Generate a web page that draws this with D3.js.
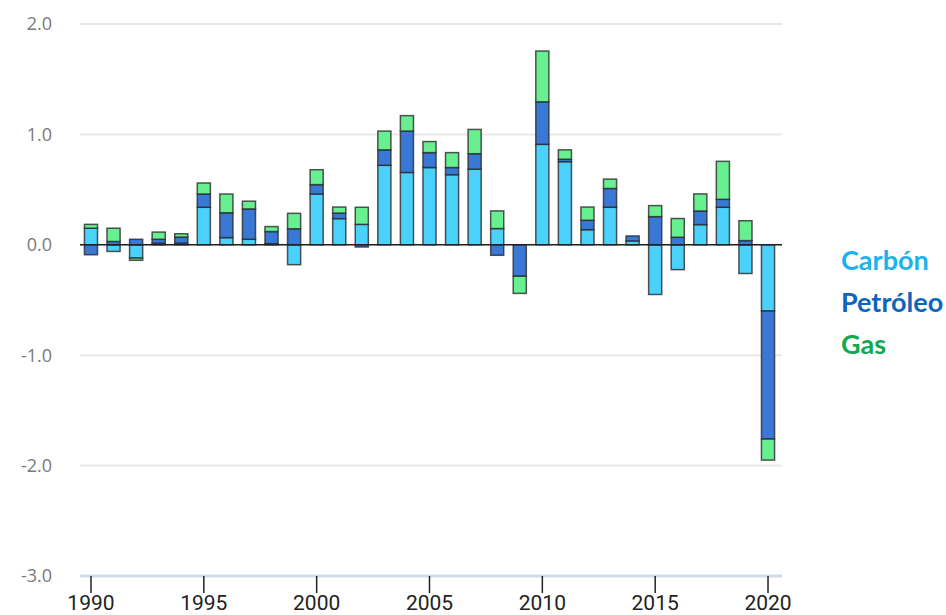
<!DOCTYPE html>
<html>
<head>
<meta charset="utf-8">
<script src="https://cdn.jsdelivr.net/npm/d3@7"></script>
<style>
  body { margin: 0; background: #fff; }
  svg { display: block; }
</style>
</head>
<body>
<div id="chart"></div>
<script>
// years 1990..2020
const years = d3.range(1990, 2021);
const carbon = [0.15, -0.06, -0.12, 0.015, 0.015, 0.34, 0.065, 0.05, 0.01, -0.18,
                0.46, 0.237, 0.185, 0.72, 0.655, 0.70, 0.635, 0.685, 0.147, 0.0,
                0.91, 0.753, 0.137, 0.34, 0.035, -0.45, -0.225, 0.183, 0.34, -0.26, -0.6];
const oil = [-0.09, 0.03, 0.05, 0.035, 0.055, 0.12, 0.225, 0.275, 0.11, 0.145,
             0.085, 0.05, -0.02, 0.14, 0.375, 0.135, 0.065, 0.14, -0.095, -0.285,
             0.385, 0.022, 0.085, 0.17, 0.045, 0.255, 0.068, 0.123, 0.072, 0.038, -1.16];
const gas = [0.035, 0.12, -0.02, 0.065, 0.03, 0.10, 0.17, 0.07, 0.045, 0.14,
             0.135, 0.055, 0.155, 0.17, 0.14, 0.10, 0.135, 0.22, 0.16, -0.155,
             0.46, 0.085, 0.12, 0.085, 0.0, 0.10, 0.17, 0.155, 0.344, 0.18, -0.19];
const seriesNames = ["Carbón", "Petróleo", "Gas"];
const yTicks = [2, 1, 0, -1, -2, -3];
const xTicks = [1990, 1995, 2000, 2005, 2010, 2015, 2020];

const width = 946, height = 615;
const fills = ["#4ad2fd", "#3a78d6", "#68f090"];
const legendColors = ["#1cb3ec", "#0e66bb", "#12aa4e"];

const svg = d3.select("#chart").append("svg")
    .attr("width", width).attr("height", height);

const rows = years.map((yr, i) => ({year: yr, "Carbón": carbon[i], "Petróleo": oil[i], "Gas": gas[i]}));

const x = d3.scaleBand()
    .domain(years)
    .range([79.7, 779.3])
    .paddingInner(0.42)
    .paddingOuter(0.21);

const y = d3.scaleLinear().domain([-3, 2]).range([576, 24]);

// gridlines
svg.append("g").selectAll("line")
  .data(yTicks)
  .enter().append("line")
    .attr("x1", 80).attr("x2", 782)
    .attr("y1", d => y(d)).attr("y2", d => y(d))
    .attr("stroke", d => d === -3 ? "#d3dbea" : "#e8e8e8")
    .attr("stroke-width", d => d === -3 ? 3 : 2);

// y labels (plain hyphen, like the original)
svg.append("g").selectAll("text")
  .data(yTicks)
  .enter().append("text")
    .attr("x", 52)
    .attr("y", d => y(d))
    .attr("dy", "0.36em")
    .attr("text-anchor", "end")
    .attr("font-family", "Open Sans, sans-serif")
    .attr("font-size", "18px")
    .attr("fill", "#7a7a7a")
    .text(d => d3.format(".1f")(d).replace("\u2212", "-"));

// stacked bars
const stack = d3.stack()
    .keys(seriesNames)
    .offset(d3.stackOffsetDiverging);
const layers = stack(rows);

svg.append("g").selectAll("g")
  .data(layers)
  .enter().append("g")
    .attr("fill", (d, i) => fills[i])
  .selectAll("rect")
  .data(d => d)
  .enter().append("rect")
    .attr("x", d => x(d.data.year))
    .attr("width", x.bandwidth())
    .attr("y", d => y(Math.max(d[0], d[1])))
    .attr("height", d => Math.abs(y(d[0]) - y(d[1])))
    .attr("stroke", "#2a2a2a")
    .attr("stroke-opacity", 0.8)
    .attr("stroke-width", 1.5);

// zero line
svg.append("line")
    .attr("x1", 80).attr("x2", 782)
    .attr("y1", y(0)).attr("y2", y(0))
    .attr("stroke", "#222")
    .attr("stroke-width", 1.5);

// x axis
const xAxis = svg.append("g")
    .attr("transform", "translate(0," + y(-3) + ")")
    .call(d3.axisBottom(x).tickValues(xTicks).tickSize(17).tickPadding(2));
xAxis.select(".domain").remove();
xAxis.selectAll(".tick line").attr("stroke", "#222").attr("stroke-width", 1.5);
xAxis.selectAll(".tick text")
    .attr("font-family", "Roboto, sans-serif")
    .attr("font-size", "21px")
    .attr("fill", "#222");

// legend
svg.append("g").selectAll("text")
  .data(seriesNames)
  .enter().append("text")
    .attr("x", 841)
    .attr("y", (d, i) => 270 + i * 42)
    .attr("font-family", "Lato, sans-serif")
    .attr("font-weight", "bold")
    .attr("font-size", "27px")
    .attr("fill", (d, i) => legendColors[i])
    .text(d => d);
</script>
</body>
</html>
